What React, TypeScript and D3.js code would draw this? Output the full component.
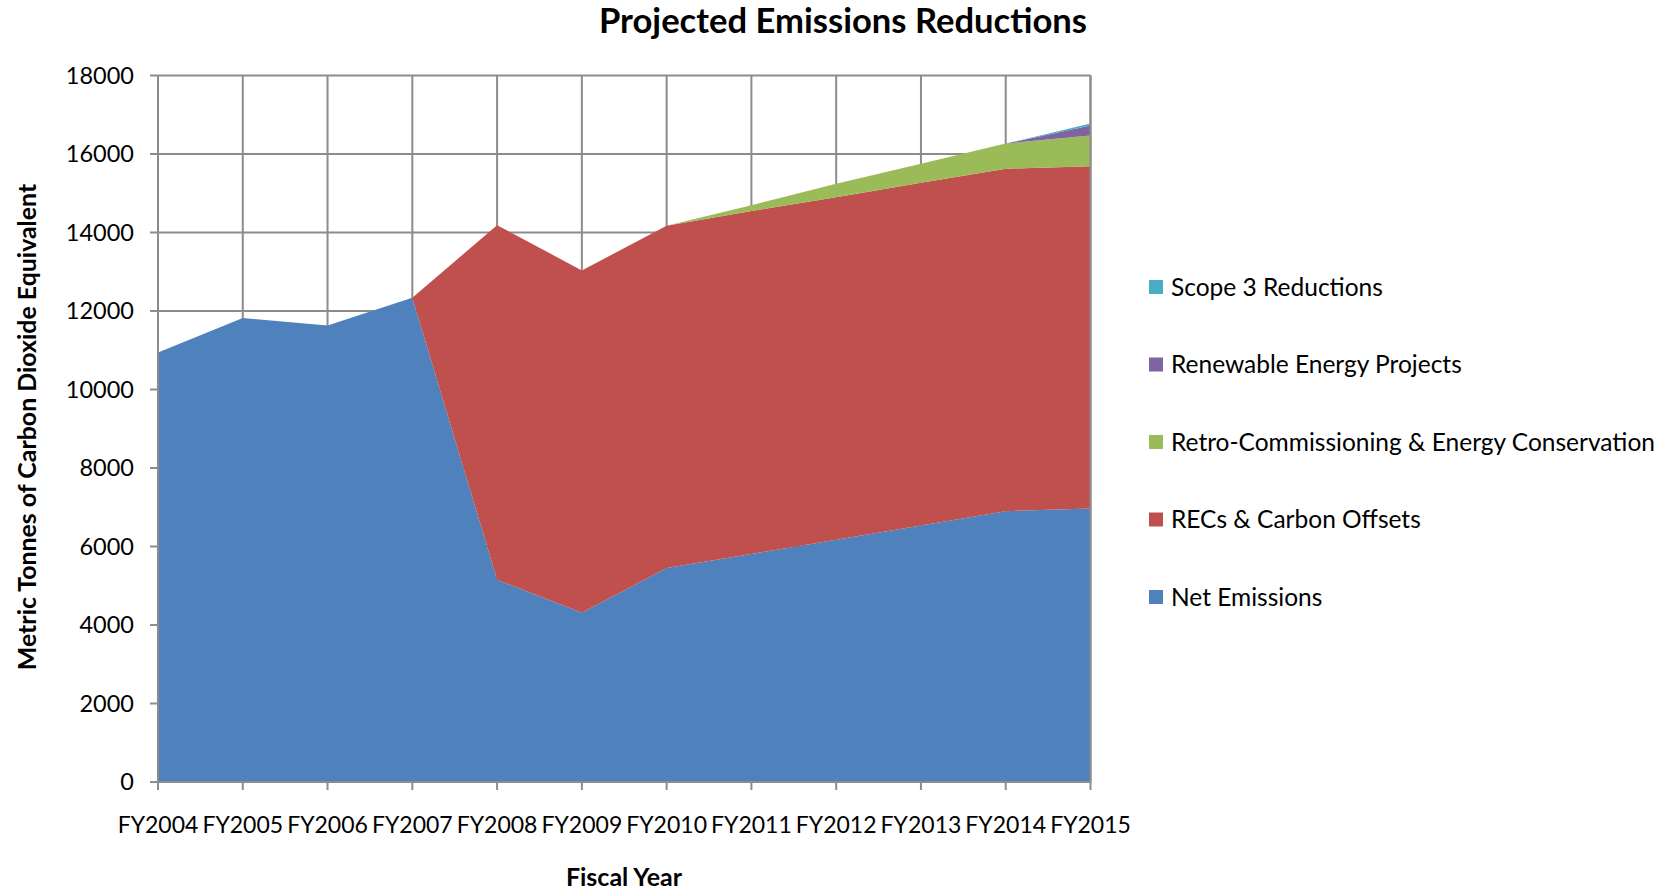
import React from "react";
import * as d3 from "d3";

const categories = ["FY2004", "FY2005", "FY2006", "FY2007", "FY2008", "FY2009", "FY2010", "FY2011", "FY2012", "FY2013", "FY2014", "FY2015"];
const netEmissions = [10940, 11820, 11630, 12340, 5150, 4310, 5450, 5810, 6170, 6535, 6900, 6970];
const recsOffsets = [0, 0, 0, 0, 9035, 8725, 8720, 8735, 8730, 8730, 8725, 8720];
const retroCommissioning = [0, 0, 0, 0, 0, 0, 0, 150, 340, 485, 640, 780];
const renewableProjects = [0, 0, 0, 0, 0, 0, 0, 0, 0, 0, 0, 255];
const scope3Reductions = [0, 0, 0, 0, 0, 0, 0, 0, 0, 0, 0, 50];
const yTicks = [0, 2000, 4000, 6000, 8000, 10000, 12000, 14000, 16000, 18000];

const seriesNames = ["Net Emissions", "RECs & Carbon Offsets", "Retro-Commissioning & Energy Conservation", "Renewable Energy Projects", "Scope 3 Reductions"];
const seriesValues = [netEmissions, recsOffsets, retroCommissioning, renewableProjects, scope3Reductions];
const seriesColors = ["#4F81BD", "#C0504D", "#9BBB59", "#8064A2", "#4BACC6"];

const W = 1673, H = 890;
const left = 158, right = 1090.5, top = 75.5, bottom = 782;
const FONT = "Lato, 'Noto Sans', sans-serif";
const GRID = "#8C8C8C";

export default function App() {
  const x = d3.scalePoint<string>().domain(categories).range([left, right]);
  const y = d3.scaleLinear().domain([0, 18000]).range([bottom, top]);

  const table = categories.map((c, i) => {
    const row: any = { cat: c };
    seriesNames.forEach((n, k) => (row[n] = seriesValues[k][i]));
    return row;
  });
  const stacked = d3.stack<any>().keys(seriesNames)(table);
  const area = d3
    .area<any>()
    .x((d) => x(d.data.cat) as number)
    .y0((d) => y(d[0]))
    .y1((d) => y(d[1]));

  const legendRows = [...seriesNames].reverse();
  const legendY0 = 287, legendStep = 77.5;

  return (
    <svg width={W} height={H} style={{ position: "absolute", left: 0, top: 0, background: "#fff" }}>
      {/* grid */}
      {yTicks.map((t) => (
        <line key={"hg" + t} x1={left} x2={right} y1={y(t)} y2={y(t)} stroke={GRID} strokeWidth={2} />
      ))}
      {categories.map((c) => (
        <line key={"vg" + c} x1={x(c)} x2={x(c)} y1={top} y2={bottom} stroke={GRID} strokeWidth={2} />
      ))}
      {/* areas */}
      {stacked.map((s, k) => (
        <path key={s.key} d={area(s) as string} fill={seriesColors[k]} />
      ))}
      {/* axes */}
      <line x1={left} x2={left} y1={top} y2={bottom} stroke={GRID} strokeWidth={2} />
      <line x1={left - 8} x2={right} y1={bottom} y2={bottom} stroke={GRID} strokeWidth={2} />
      <line x1={right} x2={right} y1={top} y2={bottom} stroke={GRID} strokeWidth={2} />
      {yTicks.map((t) => (
        <g key={"yt" + t}>
          <line x1={left - 8} x2={left} y1={y(t)} y2={y(t)} stroke={GRID} strokeWidth={2} />
          <text x={134} y={y(t)} dy="0.35em" textAnchor="end" fontFamily={FONT} fontSize={23.5} fill="#000">
            {t}
          </text>
        </g>
      ))}
      {categories.map((c) => (
        <g key={"xt" + c}>
          <line x1={x(c)} x2={x(c)} y1={bottom} y2={bottom + 8} stroke={GRID} strokeWidth={2} />
          <text x={x(c)} y={825} dy="0.35em" textAnchor="middle" fontFamily={FONT} fontSize={23} fill="#000">
            {c}
          </text>
        </g>
      ))}
      {/* titles */}
      <text x={843} y={21} dy="0.35em" textAnchor="middle" fontFamily={FONT} fontWeight="bold" fontSize={34.6} fill="#000">
        Projected Emissions Reductions
      </text>
      <text x={624} y={877} dy="0.35em" textAnchor="middle" fontFamily={FONT} fontWeight="bold" fontSize={25} fill="#000">
        Fiscal Year
      </text>
      <text
        transform={`translate(27,427) rotate(-90)`}
        dy="0.35em"
        textAnchor="middle"
        fontFamily={FONT}
        fontWeight="bold"
        fontSize={24.9}
        fill="#000"
      >
        Metric Tonnes of Carbon Dioxide Equivalent
      </text>
      {/* legend */}
      {legendRows.map((n, i) => {
        const k = seriesNames.indexOf(n);
        const cy = legendY0 + i * legendStep;
        return (
          <g key={"lg" + n}>
            <rect x={1149} y={cy - 7} width={14} height={14} fill={seriesColors[k]} />
            <text x={1171} y={cy} dy="0.35em" fontFamily={FONT} fontSize={24.5} fill="#000">
              {n}
            </text>
          </g>
        );
      })}
    </svg>
  );
}
